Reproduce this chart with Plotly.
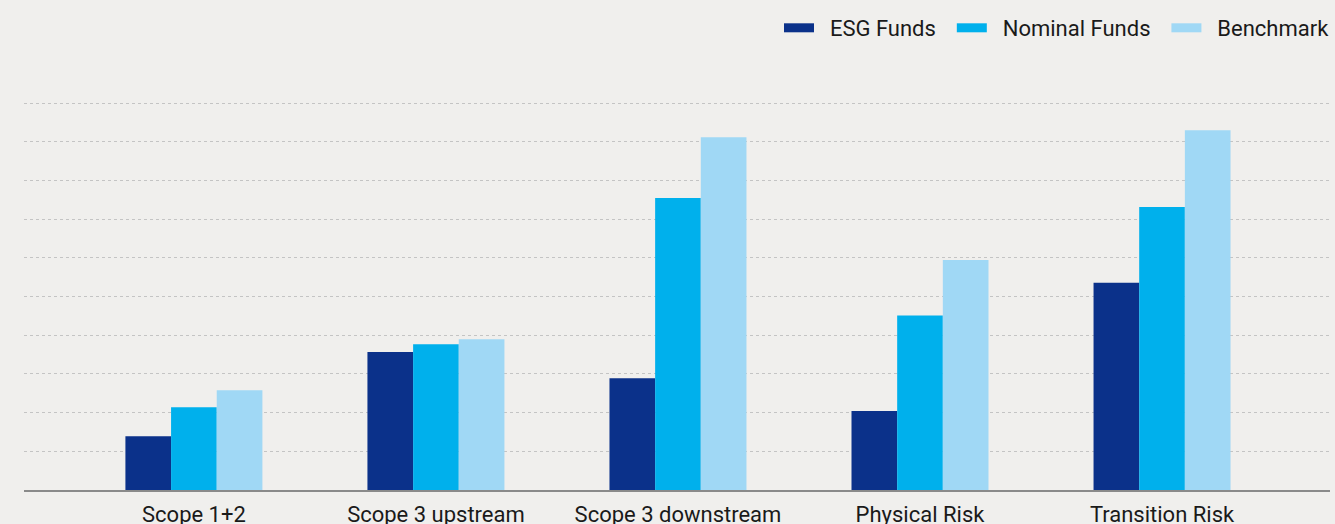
import plotly.graph_objects as go

categories = ["Scope 1+2", "Scope 3 upstream", "Scope 3 downstream", "Physical Risk", "Transition Risk"]
esg_funds = [1.39, 3.57, 2.89, 2.04, 5.36]
nominal_funds = [2.14, 3.77, 7.55, 4.51, 7.32]
benchmark = [2.58, 3.90, 9.12, 5.95, 9.30]

series = [
    ("ESG Funds", esg_funds, "#0B318A"),
    ("Nominal Funds", nominal_funds, "#00B0EC"),
    ("Benchmark", benchmark, "#A0D8F5"),
]

NB = "\u00a0"
fig = go.Figure()
for name, vals, color in series:
    fig.add_trace(go.Bar(x=categories, y=vals, name=name, marker=dict(color=color, line=dict(width=0)),
                         showlegend=False))
for i, (name, vals, color) in enumerate(series):
    label = NB * 2 + name + (NB * 2 if i < len(series) - 1 else "")
    fig.add_trace(go.Scatter(x=[None], y=[None], mode="lines", name=label,
                             line=dict(color=color, width=9)))

fig.update_layout(
    width=1335, height=524,
    margin=dict(l=24, r=5, t=91, b=34),
    paper_bgcolor="#F0EFED", plot_bgcolor="#F0EFED",
    barmode="group", bargap=0.434, bargroupgap=0,
    font=dict(family="Roboto", size=22, color="#1a1a1a"),
    legend=dict(orientation="h", x=1.0, xref="container", xanchor="right",
                y=1 - 28 / 524, yref="container", yanchor="middle",
                font=dict(size=22), itemwidth=30, bgcolor="rgba(0,0,0,0)"),
    xaxis=dict(type="category", range=[-0.702, 4.694], showgrid=False, showline=True,
               linecolor="#8a8a8a", linewidth=1.5, ticks="", tickfont=dict(size=22),
               ticklabelstandoff=4, automargin=False),
    yaxis=dict(range=[0, 399 / 38.67], dtick=1, showgrid=True, gridcolor="#c4c4c4", griddash="dot",
               gridwidth=1, showticklabels=False, zeroline=False, showline=False, automargin=False),
)

fig.write_html("out.html")
